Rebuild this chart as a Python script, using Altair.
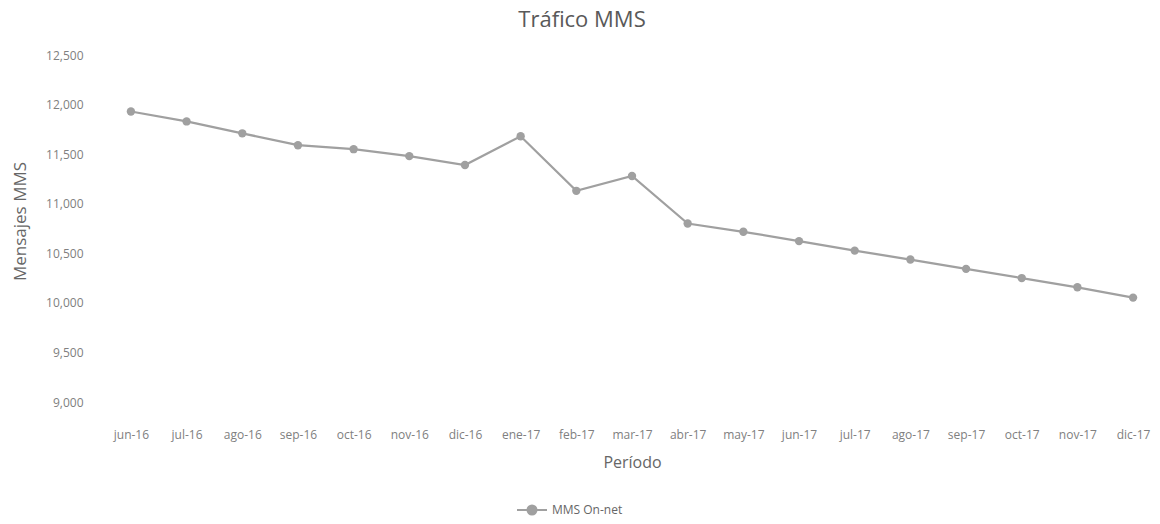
import altair as alt
import pandas as pd

periods = ["jun-16", "jul-16", "ago-16", "sep-16", "oct-16", "nov-16", "dic-16",
           "ene-17", "feb-17", "mar-17", "abr-17", "may-17", "jun-17", "jul-17",
           "ago-17", "sep-17", "oct-17", "nov-17", "dic-17"]
mms_on_net = [11930, 11830, 11710, 11590, 11550, 11480, 11390,
              11680, 11130, 11280, 10800, 10717, 10623, 10527,
              10437, 10343, 10250, 10157, 10053]
y_ticks = [9000, 9500, 10000, 10500, 11000, 11500, 12000, 12500]
series_name = "MMS On-net"

df = pd.DataFrame({"Periodo": periods, "Valor": mms_on_net, "Serie": series_name})

FONT = "Open Sans"
GRAY = "#A0A0A0"
TEXT = "#808080"

x_enc = alt.X("Periodo:N", sort=periods,
              scale=alt.Scale(type="point", padding=0.25),
              axis=alt.Axis(title="Período", labelAngle=0, labelOverlap=False,
                            domain=False, ticks=False, grid=False,
                            labelPadding=27, titlePadding=14,
                            labelFontSize=12, titleFontSize=16,
                            labelColor=TEXT, titleColor="#666666",
                            labelFont=FONT, titleFont=FONT,
                            titleFontWeight="normal"))
y_enc = alt.Y("Valor:Q",
              scale=alt.Scale(domain=[9000, 12500], nice=False, zero=False),
              axis=alt.Axis(title="Mensajes MMS", values=y_ticks,
                            format=",.0f", domain=False, ticks=False, grid=False,
                            labelPadding=34, labelFontSize=12, titleFontSize=17,
                            labelColor=TEXT, titleColor="#666666",
                            labelFont=FONT, titleFont=FONT,
                            titleFontWeight="normal", titleX=-97, titleY=166,
                            titleAngle=-90, titleBaseline="middle", titleAlign="center"))

color = alt.Color("Serie:N", scale=alt.Scale(range=[GRAY]),
                  legend=alt.Legend(title=None, orient="none", legendX=399, legendY=439,
                                    symbolType="M -1 0 L -0.3 0 M 0.3 0 L 1 0 M -0.3 0 A 0.3 0.3 0 1 1 0.3 0 A 0.3 0.3 0 1 1 -0.3 0",
                                    symbolSize=900, symbolStrokeWidth=2,
                                    symbolFillColor=GRAY, symbolStrokeColor=GRAY,
                                    labelFont=FONT, labelFontSize=12, labelColor="#666666",
                                    labelOffset=4))

line = alt.Chart(df).mark_line(strokeWidth=2.25).encode(x=x_enc, y=y_enc, color=color)
points = alt.Chart(df).mark_point(filled=True, size=70, opacity=1).encode(
    x=x_enc, y=y_enc, color=alt.Color("Serie:N", scale=alt.Scale(range=[GRAY]), legend=None))

chart = alt.layer(line, points).properties(
    width=1030, height=347,
    autosize=alt.AutoSizeParams(type="none"),
    padding={"left": 109, "top": 47, "right": 5, "bottom": 114},
    title=alt.TitleParams("Tráfico MMS", font=FONT, fontSize=22, fontWeight="normal",
                          color="#595959", anchor="middle", frame="group", dx=-50, offset=17),
).configure_view(stroke=None)

chart.save("out.html", embed_options={"renderer": "svg", "actions": False})
